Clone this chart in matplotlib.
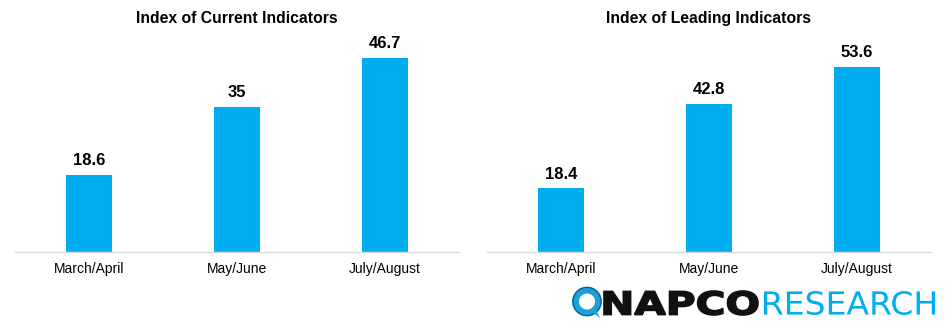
import matplotlib.pyplot as plt
from matplotlib.patches import Circle, PathPatch, Polygon
from matplotlib.textpath import TextPath
from matplotlib.font_manager import FontProperties
from matplotlib.transforms import Affine2D

plt.rcParams['font.family'] = ['Liberation Sans', 'DejaVu Sans']

periods = ['March/April', 'May/June', 'July/August']
current_index = [18.6, 35, 46.7]
leading_index = [18.4, 42.8, 53.6]
titles = ['Index of Current Indicators', 'Index of Leading Indicators']

BAR_BLUE = '#00AEEF'
W, H = 947, 323

fig = plt.figure(figsize=(W / 100, H / 100), dpi=100)


def px_axes(x0, y0, x1, y1):
    # axes from pixel box (top-left origin)
    return fig.add_axes([x0 / W, (H - y1) / H, (x1 - x0) / W, (y1 - y0) / H])


panels = [
    (px_axes(15, 40, 459, 252), current_index, titles[0], 51.1),
    (px_axes(487, 40, 931, 252), leading_index, titles[1], 61.4),
]

for ax, values, title, ymax in panels:
    x = range(len(periods))
    bars = ax.bar(x, values, width=0.31, color=BAR_BLUE)
    for b, v in zip(bars, values):
        ax.annotate(f'{v:g}', (b.get_x() + b.get_width() / 2, v),
                    xytext=(0, 5), textcoords='offset points',
                    ha='center', va='bottom', fontsize=12, fontweight='bold')
    ax.set_xlim(-0.5, 2.5)
    ax.set_ylim(0, ymax)
    ax.set_xticks(list(x))
    ax.set_xticklabels(periods, fontsize=10)
    ax.tick_params(axis='x', length=0, pad=7)
    ax.set_yticks([])
    for side in ['top', 'left', 'right']:
        ax.spines[side].set_visible(False)
    ax.spines['bottom'].set_color('#D9D9D9')
    ax.spines['bottom'].set_linewidth(1)
    ax.set_title(title, fontsize=11.3, fontweight='bold', pad=12)

# logo strip at lower right
logo = fig.add_axes([0, 0, 1, 1], facecolor='none')
logo.set_xlim(0, W)
logo.set_ylim(H, 0)
logo.axis('off')

logo.add_patch(Circle((587, 301.5), 11.5, fill=False, lw=5, color='#1E9FDA'))
logo.add_patch(Circle((587, 301.5), 14, fill=False, lw=0.8, color='#0B5C8C'))
logo.add_patch(Polygon([(592, 312), (600, 318), (596, 310)], closed=True,
                       color='#1E9FDA', lw=0))


def word(text, x0, x1, y_base, cap, color, weight, stroke=0):
    fp = FontProperties(family='DejaVu Sans', weight=weight)
    tp = TextPath((0, 0), text, size=100, prop=fp)
    ext = tp.get_extents()
    sx = (x1 - x0) / ext.width
    sy = cap / ext.height
    tr = Affine2D().translate(-ext.x0, -ext.y0).scale(sx, -sy).translate(x0, y_base)
    logo.add_patch(PathPatch(tr.transform_path(tp), facecolor=color,
                             edgecolor=color, lw=stroke))


word('NAPCO', 604, 758, 315, 24, '#111111', 'bold', stroke=1.2)
word('RESEARCH', 764, 935, 315, 24, BAR_BLUE, 'normal')

fig.savefig('out.png', dpi=100)
